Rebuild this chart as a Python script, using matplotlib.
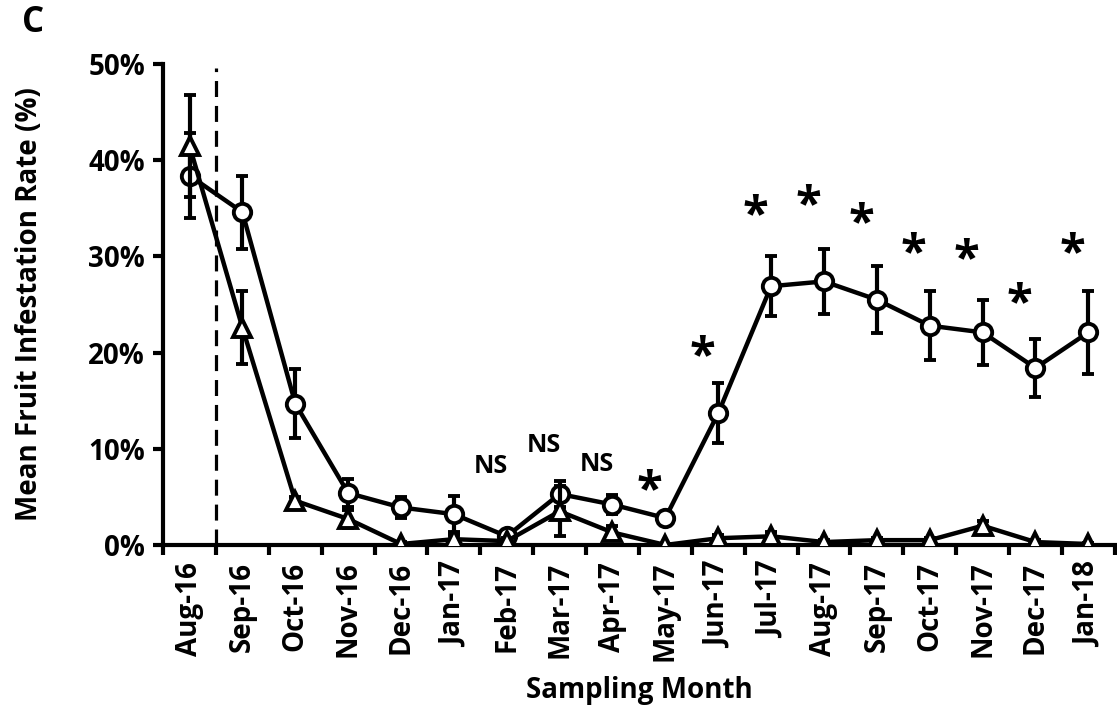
import numpy as np
import matplotlib.pyplot as plt
from matplotlib.ticker import FuncFormatter, FixedLocator

plt.rcParams['font.family'] = ['Open Sans', 'DejaVu Sans']
plt.rcParams['font.weight'] = 'bold'

# data
months = ['Aug-16', 'Sep-16', 'Oct-16', 'Nov-16', 'Dec-16', 'Jan-17', 'Feb-17', 'Mar-17', 'Apr-17',
          'May-17', 'Jun-17', 'Jul-17', 'Aug-17', 'Sep-17', 'Oct-17', 'Nov-17', 'Dec-17', 'Jan-18']
circle_mean = [38.4, 34.6, 14.7, 5.4, 3.9, 3.2, 0.9, 5.3, 4.2, 2.8, 13.7, 26.9, 27.4, 25.5, 22.8, 22.1, 18.4, 22.1]
circle_err = [4.4, 3.8, 3.6, 1.5, 1.1, 1.9, 0.3, 1.4, 1.0, 0.4, 3.1, 3.1, 3.4, 3.5, 3.6, 3.4, 3.0, 4.3]
tri_mean = [41.5, 22.6, 4.6, 2.7, 0.1, 0.6, 0.4, 3.5, 1.3, 0.0, 0.7, 0.9, 0.3, 0.5, 0.5, 2.0, 0.3, 0.1]
tri_err = [5.3, 3.8, 0.4, 0.9, 0.2, 0.4, 0.3, 2.6, 0.7, 0.1, 0.3, 0.4, 0.2, 0.2, 0.2, 0.5, 0.2, 0.1]

sig_labels = ['NS', 'NS', 'NS', '*', '*', '*', '*', '*', '*', '*', '*', '*']
sig_idx = [6, 7, 8, 9, 10, 11, 12, 13, 14, 15, 16, 17]
sig_y = [8.2, 10.3, 8.4, 7.0, 21.0, 35.6, 36.7, 34.8, 31.7, 31.1, 26.5, 31.7]

x = np.arange(len(months))

fig = plt.figure(figsize=(11.17, 7.12), dpi=100)
ax = fig.add_axes([0.146, 0.2346, 0.852, 0.6755])

ax.errorbar(x, circle_mean, yerr=circle_err, color='black', lw=3.2, marker='o', ms=12.5,
            mfc='white', mec='black', mew=2.8, capsize=4.5, capthick=3, elinewidth=3, zorder=3)
ax.errorbar(x, tri_mean, yerr=tri_err, color='black', lw=3.2, marker='^', ms=12.5,
            mfc='white', mec='black', mew=2.8, capsize=4.5, capthick=3, elinewidth=3, zorder=4)

# vertical dashed line between Aug-16 and Sep-16
ax.plot([0.5, 0.5], [0, 49.6], color='black', lw=2.3, ls=(0, (5, 2.8)), zorder=2)

for i, lab, yy in zip(sig_idx, sig_labels, sig_y):
    if lab == 'NS':
        ax.text(i - 0.3, yy, lab, ha='center', va='center', fontsize=18, fontweight='bold')
    else:
        ax.text(i - 0.3, yy - 1.5, lab, ha='center', va='center', fontsize=34, fontweight='bold')

ax.set_xlim(-0.5, 17.5)
ax.set_ylim(0, 50)
ax.set_yticks([0, 10, 20, 30, 40, 50])
ax.yaxis.set_major_formatter(FuncFormatter(lambda v, p: f'{int(v)}%'))

ax.set_xticks(x)
ax.set_xticklabels(months, rotation=90)
ax.xaxis.set_minor_locator(FixedLocator(np.arange(-0.5, 18, 1)))
ax.tick_params(axis='x', which='major', length=0, pad=12, labelsize=20)
ax.tick_params(axis='x', which='minor', length=7, width=3, direction='out')
ax.tick_params(axis='y', length=7, width=3, direction='out', labelsize=20, pad=6)

for s in ['top', 'right']:
    ax.spines[s].set_visible(False)
for s in ['left', 'bottom']:
    ax.spines[s].set_linewidth(3)

for lbl in ax.get_xticklabels() + ax.get_yticklabels():
    lbl.set_fontweight('bold')

ax.set_xlabel('Sampling Month', fontsize=20, fontweight='bold')
ax.set_ylabel('Mean Fruit Infestation Rate (%)', fontsize=20, fontweight='bold')
ax.xaxis.set_label_coords(0.5, -0.272)
ax.yaxis.set_label_coords(-0.125, 0.5)

fig.text(0.030, 0.968, 'C', fontsize=25, fontweight='bold', ha='center', va='center')

fig.savefig('out.png', dpi=100)
